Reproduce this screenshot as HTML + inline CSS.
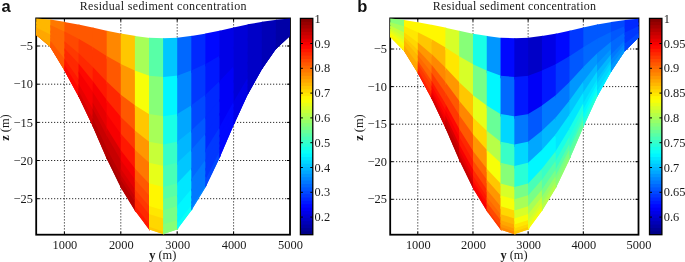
<!DOCTYPE html>
<html><head><meta charset="utf-8"><title>Residual sediment concentration</title>
<style>
html,body{margin:0;padding:0;background:#fff;}
svg{display:block;will-change:transform;}
.g{stroke:#000;stroke-width:1;stroke-dasharray:1 2;}
.t{stroke:#000;stroke-width:1;}
.s{font-family:"Liberation Serif",serif;font-size:12.4px;fill:#1a1a1a;}
.ti{font-family:"Liberation Serif",serif;font-size:12px;fill:#1a1a1a;letter-spacing:0.34px;}
.lab{font-family:"Liberation Sans",sans-serif;font-weight:bold;font-size:16.5px;fill:#111;}
</style></head><body>
<svg width="685" height="262" viewBox="0 0 685 262">
<rect width="685" height="262" fill="#fff"/>
<line x1="64.40" y1="18.40" x2="64.40" y2="234.70" class="g"/>
<line x1="120.80" y1="18.40" x2="120.80" y2="234.70" class="g"/>
<line x1="177.20" y1="18.40" x2="177.20" y2="234.70" class="g"/>
<line x1="233.60" y1="18.40" x2="233.60" y2="234.70" class="g"/>
<line x1="36.20" y1="46.00" x2="290.00" y2="46.00" class="g"/>
<line x1="36.20" y1="84.20" x2="290.00" y2="84.20" class="g"/>
<line x1="36.20" y1="122.40" x2="290.00" y2="122.40" class="g"/>
<line x1="36.20" y1="160.50" x2="290.00" y2="160.50" class="g"/>
<line x1="36.20" y1="198.70" x2="290.00" y2="198.70" class="g"/>
<rect x="36.20" y="18.40" width="253.80" height="216.30" fill="none" stroke="#000" stroke-width="1.8"/>
<line x1="64.40" y1="234.70" x2="64.40" y2="231.70" class="t"/>
<line x1="64.40" y1="18.40" x2="64.40" y2="21.40" class="t"/>
<line x1="120.80" y1="234.70" x2="120.80" y2="231.70" class="t"/>
<line x1="120.80" y1="18.40" x2="120.80" y2="21.40" class="t"/>
<line x1="177.20" y1="234.70" x2="177.20" y2="231.70" class="t"/>
<line x1="177.20" y1="18.40" x2="177.20" y2="21.40" class="t"/>
<line x1="233.60" y1="234.70" x2="233.60" y2="231.70" class="t"/>
<line x1="233.60" y1="18.40" x2="233.60" y2="21.40" class="t"/>
<line x1="36.20" y1="46.00" x2="39.20" y2="46.00" class="t"/>
<line x1="290.00" y1="46.00" x2="287.00" y2="46.00" class="t"/>
<line x1="36.20" y1="84.20" x2="39.20" y2="84.20" class="t"/>
<line x1="290.00" y1="84.20" x2="287.00" y2="84.20" class="t"/>
<line x1="36.20" y1="122.40" x2="39.20" y2="122.40" class="t"/>
<line x1="290.00" y1="122.40" x2="287.00" y2="122.40" class="t"/>
<line x1="36.20" y1="160.50" x2="39.20" y2="160.50" class="t"/>
<line x1="290.00" y1="160.50" x2="287.00" y2="160.50" class="t"/>
<line x1="36.20" y1="198.70" x2="39.20" y2="198.70" class="t"/>
<line x1="290.00" y1="198.70" x2="287.00" y2="198.70" class="t"/>
<polygon points="36.20,18.43 51.30,19.71 51.30,27.78 36.20,24.21" fill="#ffb700"/>
<polygon points="36.20,21.71 51.30,25.28 51.30,33.40 36.20,27.52" fill="#ffb700"/>
<polygon points="36.20,25.02 51.30,30.90 51.30,37.45 36.20,29.91" fill="#ffb700"/>
<polygon points="36.20,27.41 51.30,34.95 51.30,40.54 36.20,31.72" fill="#ffa700"/>
<polygon points="36.20,29.22 51.30,38.04 51.30,43.57 36.20,33.51" fill="#ffa700"/>
<polygon points="36.20,31.01 51.30,41.07 51.30,45.33 36.20,34.54" fill="#ffa700"/>
<polygon points="36.20,32.04 51.30,42.83 51.30,46.92 36.20,35.00" fill="#ffa700"/>
<polygon points="36.20,32.98 51.30,44.42 51.30,47.85 36.20,35.00" fill="#ffa700"/>
<polygon points="36.20,33.66 51.30,45.58 51.30,47.85 36.20,35.00" fill="#ffa700"/>
<polygon points="36.20,34.18 51.30,46.46 51.30,47.85 36.20,35.00" fill="#ff9700"/>
<polygon points="36.20,34.52 51.30,47.03 51.30,47.85 36.20,35.00" fill="#ff9700"/>
<polygon points="36.20,34.77 51.30,47.46 51.30,47.85 36.20,35.00" fill="#ff9700"/>
<polygon points="50.30,19.62 65.40,22.12 65.40,34.50 50.30,27.54" fill="#ff7800"/>
<polygon points="50.30,25.04 65.40,32.00 65.40,44.48 50.30,33.01" fill="#ff6800"/>
<polygon points="50.30,30.51 65.40,41.98 65.40,51.67 50.30,36.95" fill="#ff6800"/>
<polygon points="50.30,34.45 65.40,49.17 65.40,57.15 50.30,39.96" fill="#ff6800"/>
<polygon points="50.30,37.46 65.40,54.65 65.40,62.53 50.30,42.91" fill="#ff6800"/>
<polygon points="50.30,40.41 65.40,60.03 65.40,65.64 50.30,44.61" fill="#ff5800"/>
<polygon points="50.30,42.11 65.40,63.14 65.40,68.47 50.30,46.16" fill="#ff5800"/>
<polygon points="50.30,43.66 65.40,65.97 65.40,70.53 50.30,47.00" fill="#ff5800"/>
<polygon points="50.30,44.79 65.40,68.03 65.40,72.06 50.30,47.00" fill="#ff5800"/>
<polygon points="50.30,45.64 65.40,69.59 65.40,72.06 50.30,47.00" fill="#ff5800"/>
<polygon points="50.30,46.20 65.40,70.61 65.40,72.06 50.30,47.00" fill="#ff5800"/>
<polygon points="50.30,46.62 65.40,71.37 65.40,72.06 50.30,47.00" fill="#ff5800"/>
<polygon points="64.40,21.95 79.50,24.71 79.50,41.73 64.40,34.03" fill="#ff5800"/>
<polygon points="64.40,31.53 79.50,39.23 79.50,56.42 64.40,43.72" fill="#ff4800"/>
<polygon points="64.40,41.22 79.50,53.92 79.50,66.99 64.40,50.70" fill="#ff3800"/>
<polygon points="64.40,48.20 79.50,64.49 79.50,75.04 64.40,56.01" fill="#ff2800"/>
<polygon points="64.40,53.51 79.50,72.54 79.50,82.95 64.40,61.23" fill="#ff2800"/>
<polygon points="64.40,58.73 79.50,80.45 79.50,87.53 64.40,64.25" fill="#ff1800"/>
<polygon points="64.40,61.75 79.50,85.03 79.50,91.68 64.40,66.99" fill="#ff1800"/>
<polygon points="64.40,64.49 79.50,89.18 79.50,94.72 64.40,68.99" fill="#ff0800"/>
<polygon points="64.40,66.49 79.50,92.22 79.50,97.00 64.40,70.40" fill="#ff0800"/>
<polygon points="64.40,68.00 79.50,94.50 79.50,98.14 64.40,70.40" fill="#ff0800"/>
<polygon points="64.40,68.99 79.50,96.00 79.50,98.14 64.40,70.40" fill="#ff0800"/>
<polygon points="64.40,69.73 79.50,97.13 79.50,98.14 64.40,70.40" fill="#ff0800"/>
<polygon points="78.50,24.53 93.60,27.69 93.60,50.05 78.50,41.22" fill="#ff5800"/>
<polygon points="78.50,38.72 93.60,47.55 93.60,70.14 78.50,55.58" fill="#ff3800"/>
<polygon points="78.50,53.08 93.60,67.64 93.60,84.59 78.50,65.91" fill="#ff2800"/>
<polygon points="78.50,63.41 93.60,82.09 93.60,95.60 78.50,73.78" fill="#ff0800"/>
<polygon points="78.50,71.28 93.60,93.10 93.60,106.42 78.50,81.51" fill="#f70000"/>
<polygon points="78.50,79.01 93.60,103.92 93.60,112.68 78.50,85.98" fill="#f70000"/>
<polygon points="78.50,83.48 93.60,110.18 93.60,118.36 78.50,90.05" fill="#e70000"/>
<polygon points="78.50,87.55 93.60,115.86 93.60,122.51 78.50,93.01" fill="#e70000"/>
<polygon points="78.50,90.51 93.60,120.01 93.60,125.63 78.50,95.25" fill="#d70000"/>
<polygon points="78.50,92.75 93.60,123.13 93.60,127.68 78.50,96.30" fill="#d70000"/>
<polygon points="78.50,94.21 93.60,125.18 93.60,128.11 78.50,96.30" fill="#d70000"/>
<polygon points="78.50,95.31 93.60,126.72 93.60,128.11 78.50,96.30" fill="#d70000"/>
<polygon points="92.60,27.49 107.70,30.96 107.70,59.16 92.60,49.47" fill="#ff5800"/>
<polygon points="92.60,46.97 107.70,56.66 107.70,85.15 92.60,69.17" fill="#ff3800"/>
<polygon points="92.60,66.67 107.70,82.65 107.70,103.85 92.60,83.35" fill="#ff1800"/>
<polygon points="92.60,80.85 107.70,101.35 107.70,118.11 92.60,94.16" fill="#f70000"/>
<polygon points="92.60,91.66 107.70,115.61 107.70,132.11 92.60,104.77" fill="#e70000"/>
<polygon points="92.60,102.27 107.70,129.61 107.70,140.21 92.60,110.91" fill="#d70000"/>
<polygon points="92.60,108.41 107.70,137.71 107.70,147.57 92.60,116.49" fill="#c70000"/>
<polygon points="92.60,113.99 107.70,145.07 107.70,152.94 92.60,120.56" fill="#c70000"/>
<polygon points="92.60,118.06 107.70,150.44 107.70,156.98 92.60,123.62" fill="#b70000"/>
<polygon points="92.60,121.12 107.70,154.48 107.70,159.63 92.60,125.63" fill="#b70000"/>
<polygon points="92.60,123.13 107.70,157.13 107.70,160.91 92.60,126.00" fill="#b70000"/>
<polygon points="92.60,124.64 107.70,159.12 107.70,160.91 92.60,126.00" fill="#b70000"/>
<polygon points="106.70,30.73 121.80,33.80 121.80,67.08 106.70,58.52" fill="#ff8700"/>
<polygon points="106.70,56.02 121.80,64.58 121.80,98.21 106.70,84.09" fill="#ff5800"/>
<polygon points="106.70,81.59 121.80,95.71 121.80,120.61 106.70,102.50" fill="#ff2800"/>
<polygon points="106.70,100.00 121.80,118.11 121.80,137.69 106.70,116.53" fill="#ff0800"/>
<polygon points="106.70,114.03 121.80,135.19 121.80,154.45 106.70,130.30" fill="#f70000"/>
<polygon points="106.70,127.80 121.80,151.95 121.80,164.15 106.70,138.27" fill="#d70000"/>
<polygon points="106.70,135.77 121.80,161.65 121.80,172.96 106.70,145.51" fill="#c70000"/>
<polygon points="106.70,143.01 121.80,170.46 121.80,179.39 106.70,150.79" fill="#c70000"/>
<polygon points="106.70,148.29 121.80,176.89 121.80,184.23 106.70,154.77" fill="#b70000"/>
<polygon points="106.70,152.27 121.80,181.73 121.80,187.41 106.70,157.38" fill="#b70000"/>
<polygon points="106.70,154.88 121.80,184.91 121.80,189.44 106.70,158.60" fill="#a70000"/>
<polygon points="106.70,156.84 121.80,187.30 121.80,189.44 106.70,158.60" fill="#a70000"/>
<polygon points="120.80,33.59 135.90,36.06 135.90,73.38 120.80,66.51" fill="#ffc700"/>
<polygon points="120.80,64.01 135.90,70.88 135.90,108.60 120.80,97.28" fill="#ff9700"/>
<polygon points="120.80,94.78 135.90,106.10 135.90,133.94 120.80,119.41" fill="#ff5800"/>
<polygon points="120.80,116.91 135.90,131.44 135.90,153.26 120.80,136.29" fill="#ff3800"/>
<polygon points="120.80,133.79 135.90,150.76 135.90,172.23 120.80,152.85" fill="#ff1800"/>
<polygon points="120.80,150.35 135.90,169.73 135.90,183.20 120.80,162.44" fill="#f70000"/>
<polygon points="120.80,159.94 135.90,180.70 135.90,193.17 120.80,171.15" fill="#e70000"/>
<polygon points="120.80,168.65 135.90,190.67 135.90,200.44 120.80,177.50" fill="#d70000"/>
<polygon points="120.80,175.00 135.90,197.94 135.90,205.92 120.80,182.28" fill="#c70000"/>
<polygon points="120.80,179.78 135.90,203.42 135.90,209.52 120.80,185.43" fill="#b70000"/>
<polygon points="120.80,182.93 135.90,207.02 135.90,212.14 120.80,187.40" fill="#b70000"/>
<polygon points="120.80,185.28 135.90,209.71 135.90,212.14 120.80,187.40" fill="#b70000"/>
<polygon points="134.90,35.89 150.00,37.92 150.00,78.58 134.90,72.93" fill="#a7ff58"/>
<polygon points="134.90,70.43 150.00,76.08 150.00,117.16 134.90,107.85" fill="#f7ff08"/>
<polygon points="134.90,105.35 150.00,114.66 150.00,144.93 134.90,132.98" fill="#ffc700"/>
<polygon points="134.90,130.48 150.00,142.43 150.00,166.10 134.90,152.13" fill="#ff9700"/>
<polygon points="134.90,149.63 150.00,163.60 150.00,186.88 134.90,170.94" fill="#ff7800"/>
<polygon points="134.90,168.44 150.00,184.38 150.00,198.90 134.90,181.82" fill="#ff5800"/>
<polygon points="134.90,179.32 150.00,196.40 150.00,209.82 134.90,191.71" fill="#ff4800"/>
<polygon points="134.90,189.21 150.00,207.32 150.00,217.79 134.90,198.92" fill="#ff3800"/>
<polygon points="134.90,196.42 150.00,215.29 150.00,223.79 134.90,204.35" fill="#ff2800"/>
<polygon points="134.90,201.85 150.00,221.29 150.00,227.73 134.90,207.92" fill="#ff2800"/>
<polygon points="134.90,205.42 150.00,225.23 150.00,230.69 134.90,210.50" fill="#ff1800"/>
<polygon points="134.90,208.10 150.00,228.19 150.00,230.85 134.90,210.50" fill="#ff1800"/>
<polygon points="149.00,37.78 164.10,38.28 164.10,79.60 149.00,78.20" fill="#58ffa7"/>
<polygon points="149.00,75.70 164.10,77.10 164.10,118.85 149.00,116.54" fill="#87ff78"/>
<polygon points="149.00,114.04 164.10,116.35 164.10,147.09 149.00,144.14" fill="#a7ff58"/>
<polygon points="149.00,141.64 164.10,144.59 164.10,168.62 149.00,165.17" fill="#c7ff38"/>
<polygon points="149.00,162.67 164.10,166.12 164.10,189.76 149.00,185.82" fill="#e7ff18"/>
<polygon points="149.00,183.32 164.10,187.26 164.10,201.99 149.00,197.77" fill="#fff700"/>
<polygon points="149.00,195.27 164.10,199.49 164.10,213.10 149.00,208.62" fill="#fff700"/>
<polygon points="149.00,206.12 164.10,210.60 164.10,221.21 149.00,216.54" fill="#ffe700"/>
<polygon points="149.00,214.04 164.10,218.71 164.10,227.31 149.00,222.50" fill="#ffd700"/>
<polygon points="149.00,220.00 164.10,224.81 164.10,231.32 149.00,226.42" fill="#ffd700"/>
<polygon points="149.00,223.92 164.10,228.82 164.10,234.33 149.00,229.36" fill="#ffd700"/>
<polygon points="149.00,226.86 164.10,231.83 164.10,234.53 149.00,229.50" fill="#ffc700"/>
<polygon points="163.10,38.25 178.20,37.75 178.20,78.11 163.10,79.51" fill="#00c7ff"/>
<polygon points="163.10,77.01 178.20,75.61 178.20,116.39 163.10,118.70" fill="#00f7ff"/>
<polygon points="163.10,116.20 178.20,113.89 178.20,143.94 163.10,146.90" fill="#18ffe7"/>
<polygon points="163.10,144.40 178.20,141.44 178.20,164.94 163.10,168.40" fill="#38ffc7"/>
<polygon points="163.10,165.90 178.20,162.44 178.20,185.56 163.10,189.50" fill="#48ffb7"/>
<polygon points="163.10,187.00 178.20,183.06 178.20,197.49 163.10,201.71" fill="#58ffa7"/>
<polygon points="163.10,199.21 178.20,194.99 178.20,208.33 163.10,212.81" fill="#68ff97"/>
<polygon points="163.10,210.31 178.20,205.83 178.20,216.23 163.10,220.90" fill="#78ff87"/>
<polygon points="163.10,218.40 178.20,213.73 178.20,222.19 163.10,227.00" fill="#78ff87"/>
<polygon points="163.10,224.50 178.20,219.69 178.20,226.10 163.10,231.00" fill="#87ff78"/>
<polygon points="163.10,228.50 178.20,223.60 178.20,229.03 163.10,234.00" fill="#87ff78"/>
<polygon points="163.10,231.50 178.20,226.53 178.20,229.17 163.10,234.20" fill="#87ff78"/>
<polygon points="177.20,37.78 192.30,35.76 192.30,72.55 177.20,78.20" fill="#0068ff"/>
<polygon points="177.20,75.70 192.30,70.05 192.30,107.23 177.20,116.54" fill="#0087ff"/>
<polygon points="177.20,114.04 192.30,104.73 192.30,132.19 177.20,144.14" fill="#00a7ff"/>
<polygon points="177.20,141.64 192.30,129.69 192.30,151.21 177.20,165.17" fill="#00b7ff"/>
<polygon points="177.20,162.67 192.30,148.71 192.30,169.89 177.20,185.82" fill="#00c7ff"/>
<polygon points="177.20,183.32 192.30,167.39 192.30,180.69 177.20,197.77" fill="#00e7ff"/>
<polygon points="177.20,195.27 192.30,178.19 192.30,190.51 177.20,208.62" fill="#00e7ff"/>
<polygon points="177.20,206.12 192.30,188.01 192.30,197.67 177.20,216.54" fill="#00f7ff"/>
<polygon points="177.20,214.04 192.30,195.17 192.30,203.06 177.20,222.50" fill="#00f7ff"/>
<polygon points="177.20,220.00 192.30,200.56 192.30,206.61 177.20,226.42" fill="#00f7ff"/>
<polygon points="177.20,223.92 192.30,204.11 192.30,209.15 177.20,229.36" fill="#08fff7"/>
<polygon points="177.20,226.86 192.30,206.76 192.30,209.15 177.20,229.50" fill="#08fff7"/>
<polygon points="191.30,35.89 206.40,33.43 206.40,66.06 191.30,72.93" fill="#0028ff"/>
<polygon points="191.30,70.43 206.40,63.56 206.40,96.53 191.30,107.85" fill="#0038ff"/>
<polygon points="191.30,105.35 206.40,94.03 206.40,118.45 191.30,132.98" fill="#0048ff"/>
<polygon points="191.30,130.48 206.40,115.95 206.40,135.16 191.30,152.13" fill="#0058ff"/>
<polygon points="191.30,149.63 206.40,132.66 206.40,151.57 191.30,170.94" fill="#0068ff"/>
<polygon points="191.30,168.44 206.40,149.07 206.40,161.06 191.30,181.82" fill="#0068ff"/>
<polygon points="191.30,179.32 206.40,158.56 206.40,169.69 191.30,191.71" fill="#0078ff"/>
<polygon points="191.30,189.21 206.40,167.19 206.40,175.98 191.30,198.92" fill="#0078ff"/>
<polygon points="191.30,196.42 206.40,173.48 206.40,180.72 191.30,204.35" fill="#0078ff"/>
<polygon points="191.30,201.85 206.40,178.22 206.40,183.83 191.30,207.92" fill="#0078ff"/>
<polygon points="191.30,205.42 206.40,181.33 206.40,185.76 191.30,210.50" fill="#0078ff"/>
<polygon points="191.30,208.10 206.40,183.66 206.40,185.76 191.30,210.50" fill="#0087ff"/>
<polygon points="205.40,33.59 220.50,30.46 220.50,57.77 205.40,66.51" fill="#0008ff"/>
<polygon points="205.40,64.01 220.50,55.27 220.50,82.86 205.40,97.28" fill="#0018ff"/>
<polygon points="205.40,94.78 220.50,80.36 220.50,100.92 205.40,119.41" fill="#0028ff"/>
<polygon points="205.40,116.91 220.50,98.42 220.50,114.68 205.40,136.29" fill="#0028ff"/>
<polygon points="205.40,133.79 220.50,112.18 220.50,128.20 205.40,152.85" fill="#0028ff"/>
<polygon points="205.40,150.35 220.50,125.70 220.50,136.01 205.40,162.44" fill="#0038ff"/>
<polygon points="205.40,159.94 220.50,133.51 220.50,143.12 205.40,171.15" fill="#0038ff"/>
<polygon points="205.40,168.65 220.50,140.62 220.50,148.30 205.40,177.50" fill="#0038ff"/>
<polygon points="205.40,175.00 220.50,145.80 220.50,152.20 205.40,182.28" fill="#0038ff"/>
<polygon points="205.40,179.78 220.50,149.70 220.50,154.76 205.40,185.43" fill="#0048ff"/>
<polygon points="205.40,182.93 220.50,152.26 220.50,155.91 205.40,187.40" fill="#0048ff"/>
<polygon points="205.40,185.28 220.50,154.19 220.50,155.91 205.40,187.40" fill="#0048ff"/>
<polygon points="219.50,30.67 234.60,27.17 234.60,48.60 219.50,58.35" fill="#0000e7"/>
<polygon points="219.50,55.85 234.60,46.10 234.60,67.74 219.50,83.82" fill="#0000e7"/>
<polygon points="219.50,81.32 234.60,65.24 234.60,81.51 219.50,102.14" fill="#0000f7"/>
<polygon points="219.50,99.64 234.60,79.01 234.60,92.01 219.50,116.11" fill="#0000f7"/>
<polygon points="219.50,113.61 234.60,89.51 234.60,102.32 219.50,129.83" fill="#0000f7"/>
<polygon points="219.50,127.33 234.60,99.82 234.60,108.28 219.50,137.76" fill="#0008ff"/>
<polygon points="219.50,135.26 234.60,105.78 234.60,113.70 219.50,144.97" fill="#0008ff"/>
<polygon points="219.50,142.47 234.60,111.20 234.60,117.66 219.50,150.23" fill="#0008ff"/>
<polygon points="219.50,147.73 234.60,115.16 234.60,120.63 219.50,154.19" fill="#0008ff"/>
<polygon points="219.50,151.69 234.60,118.13 234.60,122.59 219.50,156.80" fill="#0008ff"/>
<polygon points="219.50,154.30 234.60,120.09 234.60,122.87 219.50,158.00" fill="#0008ff"/>
<polygon points="219.50,156.25 234.60,121.56 234.60,122.87 219.50,158.00" fill="#0008ff"/>
<polygon points="233.60,27.41 248.70,24.13 248.70,40.12 233.60,49.25" fill="#0000d7"/>
<polygon points="233.60,46.75 248.70,37.62 248.70,53.76 233.60,68.81" fill="#0000d7"/>
<polygon points="233.60,66.31 248.70,51.26 248.70,63.57 233.60,82.88" fill="#0000d7"/>
<polygon points="233.60,80.38 248.70,61.07 248.70,71.05 233.60,93.61" fill="#0000d7"/>
<polygon points="233.60,91.11 248.70,68.55 248.70,78.40 233.60,104.14" fill="#0000d7"/>
<polygon points="233.60,101.64 248.70,75.90 248.70,82.65 233.60,110.24" fill="#0000e7"/>
<polygon points="233.60,107.74 248.70,80.15 248.70,86.51 233.60,115.78" fill="#0000e7"/>
<polygon points="233.60,113.28 248.70,84.01 248.70,89.33 233.60,119.82" fill="#0000e7"/>
<polygon points="233.60,117.32 248.70,86.83 248.70,91.45 233.60,122.86" fill="#0000e7"/>
<polygon points="233.60,120.36 248.70,88.95 248.70,92.32 233.60,124.85" fill="#0000e7"/>
<polygon points="233.60,122.35 248.70,90.34 248.70,92.32 233.60,125.20" fill="#0000e7"/>
<polygon points="233.60,123.85 248.70,91.38 248.70,92.32 233.60,125.20" fill="#0000e7"/>
<polygon points="247.70,24.35 262.80,21.67 262.80,33.23 247.70,40.73" fill="#0000c7"/>
<polygon points="247.70,38.23 262.80,30.73 262.80,42.40 247.70,54.75" fill="#0000c7"/>
<polygon points="247.70,52.25 262.80,39.90 262.80,49.00 247.70,64.85" fill="#0000c7"/>
<polygon points="247.70,62.35 262.80,46.50 262.80,54.03 247.70,72.55" fill="#0000c7"/>
<polygon points="247.70,70.05 262.80,51.53 262.80,58.97 247.70,80.10" fill="#0000c7"/>
<polygon points="247.70,77.60 262.80,56.47 262.80,61.83 247.70,84.47" fill="#0000c7"/>
<polygon points="247.70,81.97 262.80,59.33 262.80,64.42 247.70,88.45" fill="#0000c7"/>
<polygon points="247.70,85.95 262.80,61.92 262.80,66.32 247.70,91.34" fill="#0000c7"/>
<polygon points="247.70,88.84 262.80,63.82 262.80,67.51 247.70,93.53" fill="#0000c7"/>
<polygon points="247.70,91.03 262.80,65.24 262.80,67.51 247.70,94.50" fill="#0000c7"/>
<polygon points="247.70,92.46 262.80,66.18 262.80,67.51 247.70,94.50" fill="#0000c7"/>
<polygon points="247.70,93.53 262.80,66.88 262.80,67.51 247.70,94.50" fill="#0000c7"/>
<polygon points="261.80,21.84 276.90,19.68 276.90,27.69 261.80,33.73" fill="#0000b7"/>
<polygon points="261.80,31.23 276.90,25.19 276.90,33.27 261.80,43.22" fill="#0000b7"/>
<polygon points="261.80,40.72 276.90,30.77 276.90,37.28 261.80,50.05" fill="#0000b7"/>
<polygon points="261.80,47.55 276.90,34.78 276.90,40.34 261.80,55.26" fill="#0000b7"/>
<polygon points="261.80,52.76 276.90,37.84 276.90,43.34 261.80,60.37" fill="#0000b7"/>
<polygon points="261.80,57.87 276.90,40.84 276.90,45.08 261.80,63.33" fill="#0000b7"/>
<polygon points="261.80,60.83 276.90,42.58 276.90,46.66 261.80,66.01" fill="#0000b7"/>
<polygon points="261.80,63.51 276.90,44.16 276.90,47.56 261.80,67.97" fill="#0000b7"/>
<polygon points="261.80,65.47 276.90,45.31 276.90,47.56 261.80,69.30" fill="#0000b7"/>
<polygon points="261.80,66.95 276.90,46.18 276.90,47.56 261.80,69.30" fill="#0000b7"/>
<polygon points="261.80,67.92 276.90,46.75 276.90,47.56 261.80,69.30" fill="#0000b7"/>
<polygon points="261.80,68.65 276.90,47.18 276.90,47.56 261.80,69.30" fill="#0000b7"/>
<polygon points="275.90,19.82 290.00,18.50 290.00,24.40 275.90,28.09" fill="#0000a7"/>
<polygon points="275.90,25.59 290.00,21.90 290.00,27.84 275.90,33.93" fill="#0000a7"/>
<polygon points="275.90,31.43 290.00,25.34 290.00,30.32 275.90,38.13" fill="#0000a7"/>
<polygon points="275.90,35.63 290.00,27.82 290.00,32.20 275.90,41.33" fill="#0000a7"/>
<polygon points="275.90,38.83 290.00,29.70 290.00,34.06 275.90,44.47" fill="#0000a7"/>
<polygon points="275.90,41.97 290.00,31.56 290.00,35.13 275.90,46.29" fill="#0000a7"/>
<polygon points="275.90,43.79 290.00,32.63 290.00,35.70 275.90,47.94" fill="#0000a7"/>
<polygon points="275.90,45.44 290.00,33.60 290.00,35.70 275.90,49.00" fill="#0000a7"/>
<polygon points="275.90,46.65 290.00,34.31 290.00,35.70 275.90,49.00" fill="#0000a7"/>
<polygon points="275.90,47.55 290.00,34.85 290.00,35.70 275.90,49.00" fill="#0000a7"/>
<polygon points="275.90,48.15 290.00,35.20 290.00,35.70 275.90,49.00" fill="#0000a7"/>
<polygon points="275.90,48.60 290.00,35.46 290.00,35.70 275.90,49.00" fill="#0000a7"/>
<text x="64.90" y="248.7" class="s" text-anchor="middle">1000</text>
<text x="121.30" y="248.7" class="s" text-anchor="middle">2000</text>
<text x="177.70" y="248.7" class="s" text-anchor="middle">3000</text>
<text x="234.10" y="248.7" class="s" text-anchor="middle">4000</text>
<text x="290.50" y="248.7" class="s" text-anchor="middle">5000</text>
<text x="33.00" y="50.10" class="s" text-anchor="end">−5</text>
<text x="33.00" y="88.30" class="s" text-anchor="end">−10</text>
<text x="33.00" y="126.50" class="s" text-anchor="end">−15</text>
<text x="33.00" y="164.60" class="s" text-anchor="end">−20</text>
<text x="33.00" y="202.80" class="s" text-anchor="end">−25</text>
<text x="162.80" y="259" class="s" text-anchor="middle"><tspan font-weight="bold">y</tspan> (m)</text>
<text transform="translate(8.60,127.55) rotate(-90)" class="s" text-anchor="middle"><tspan font-weight="bold">z</tspan> (m)</text>
<text x="163.27" y="9.8" class="ti" style="letter-spacing:0.34px" text-anchor="middle">Residual sediment concentration</text>
<text x="1.60" y="11.9" class="lab">a</text>
<rect x="300.40" y="18.40" width="12.40" height="216.30" fill="#870000"/>
<rect x="300.40" y="21.78" width="12.40" height="212.92" fill="#970000"/>
<rect x="300.40" y="25.16" width="12.40" height="209.54" fill="#a70000"/>
<rect x="300.40" y="28.54" width="12.40" height="206.16" fill="#b70000"/>
<rect x="300.40" y="31.92" width="12.40" height="202.78" fill="#c70000"/>
<rect x="300.40" y="35.30" width="12.40" height="199.40" fill="#d70000"/>
<rect x="300.40" y="38.68" width="12.40" height="196.02" fill="#e70000"/>
<rect x="300.40" y="42.06" width="12.40" height="192.64" fill="#f70000"/>
<rect x="300.40" y="45.44" width="12.40" height="189.26" fill="#ff0800"/>
<rect x="300.40" y="48.82" width="12.40" height="185.88" fill="#ff1800"/>
<rect x="300.40" y="52.20" width="12.40" height="182.50" fill="#ff2800"/>
<rect x="300.40" y="55.58" width="12.40" height="179.12" fill="#ff3800"/>
<rect x="300.40" y="58.96" width="12.40" height="175.74" fill="#ff4800"/>
<rect x="300.40" y="62.34" width="12.40" height="172.36" fill="#ff5800"/>
<rect x="300.40" y="65.72" width="12.40" height="168.98" fill="#ff6800"/>
<rect x="300.40" y="69.10" width="12.40" height="165.60" fill="#ff7800"/>
<rect x="300.40" y="72.47" width="12.40" height="162.22" fill="#ff8700"/>
<rect x="300.40" y="75.85" width="12.40" height="158.85" fill="#ff9700"/>
<rect x="300.40" y="79.23" width="12.40" height="155.47" fill="#ffa700"/>
<rect x="300.40" y="82.61" width="12.40" height="152.09" fill="#ffb700"/>
<rect x="300.40" y="85.99" width="12.40" height="148.71" fill="#ffc700"/>
<rect x="300.40" y="89.37" width="12.40" height="145.33" fill="#ffd700"/>
<rect x="300.40" y="92.75" width="12.40" height="141.95" fill="#ffe700"/>
<rect x="300.40" y="96.13" width="12.40" height="138.57" fill="#fff700"/>
<rect x="300.40" y="99.51" width="12.40" height="135.19" fill="#f7ff08"/>
<rect x="300.40" y="102.89" width="12.40" height="131.81" fill="#e7ff18"/>
<rect x="300.40" y="106.27" width="12.40" height="128.43" fill="#d7ff28"/>
<rect x="300.40" y="109.65" width="12.40" height="125.05" fill="#c7ff38"/>
<rect x="300.40" y="113.03" width="12.40" height="121.67" fill="#b7ff48"/>
<rect x="300.40" y="116.41" width="12.40" height="118.29" fill="#a7ff58"/>
<rect x="300.40" y="119.79" width="12.40" height="114.91" fill="#97ff68"/>
<rect x="300.40" y="123.17" width="12.40" height="111.53" fill="#87ff78"/>
<rect x="300.40" y="126.55" width="12.40" height="108.15" fill="#78ff87"/>
<rect x="300.40" y="129.93" width="12.40" height="104.77" fill="#68ff97"/>
<rect x="300.40" y="133.31" width="12.40" height="101.39" fill="#58ffa7"/>
<rect x="300.40" y="136.69" width="12.40" height="98.01" fill="#48ffb7"/>
<rect x="300.40" y="140.07" width="12.40" height="94.63" fill="#38ffc7"/>
<rect x="300.40" y="143.45" width="12.40" height="91.25" fill="#28ffd7"/>
<rect x="300.40" y="146.83" width="12.40" height="87.87" fill="#18ffe7"/>
<rect x="300.40" y="150.21" width="12.40" height="84.49" fill="#08fff7"/>
<rect x="300.40" y="153.59" width="12.40" height="81.11" fill="#00f7ff"/>
<rect x="300.40" y="156.97" width="12.40" height="77.73" fill="#00e7ff"/>
<rect x="300.40" y="160.35" width="12.40" height="74.35" fill="#00d7ff"/>
<rect x="300.40" y="163.73" width="12.40" height="70.97" fill="#00c7ff"/>
<rect x="300.40" y="167.11" width="12.40" height="67.59" fill="#00b7ff"/>
<rect x="300.40" y="170.49" width="12.40" height="64.21" fill="#00a7ff"/>
<rect x="300.40" y="173.87" width="12.40" height="60.83" fill="#0097ff"/>
<rect x="300.40" y="177.25" width="12.40" height="57.45" fill="#0087ff"/>
<rect x="300.40" y="180.62" width="12.40" height="54.07" fill="#0078ff"/>
<rect x="300.40" y="184.00" width="12.40" height="50.70" fill="#0068ff"/>
<rect x="300.40" y="187.38" width="12.40" height="47.32" fill="#0058ff"/>
<rect x="300.40" y="190.76" width="12.40" height="43.94" fill="#0048ff"/>
<rect x="300.40" y="194.14" width="12.40" height="40.56" fill="#0038ff"/>
<rect x="300.40" y="197.52" width="12.40" height="37.18" fill="#0028ff"/>
<rect x="300.40" y="200.90" width="12.40" height="33.80" fill="#0018ff"/>
<rect x="300.40" y="204.28" width="12.40" height="30.42" fill="#0008ff"/>
<rect x="300.40" y="207.66" width="12.40" height="27.04" fill="#0000f7"/>
<rect x="300.40" y="211.04" width="12.40" height="23.66" fill="#0000e7"/>
<rect x="300.40" y="214.42" width="12.40" height="20.28" fill="#0000d7"/>
<rect x="300.40" y="217.80" width="12.40" height="16.90" fill="#0000c7"/>
<rect x="300.40" y="221.18" width="12.40" height="13.52" fill="#0000b7"/>
<rect x="300.40" y="224.56" width="12.40" height="10.14" fill="#0000a7"/>
<rect x="300.40" y="227.94" width="12.40" height="6.76" fill="#000097"/>
<rect x="300.40" y="231.32" width="12.40" height="3.38" fill="#000087"/>
<rect x="300.40" y="18.40" width="12.40" height="216.30" fill="none" stroke="#000" stroke-width="1.3"/>
<text x="314.60" y="23.30" class="s">1</text>
<line x1="300.40" y1="43.50" x2="302.90" y2="43.50" class="t"/>
<line x1="312.80" y1="43.50" x2="310.30" y2="43.50" class="t"/>
<text x="314.60" y="47.60" class="s">0.9</text>
<line x1="300.40" y1="68.30" x2="302.90" y2="68.30" class="t"/>
<line x1="312.80" y1="68.30" x2="310.30" y2="68.30" class="t"/>
<text x="314.60" y="72.40" class="s">0.8</text>
<line x1="300.40" y1="93.10" x2="302.90" y2="93.10" class="t"/>
<line x1="312.80" y1="93.10" x2="310.30" y2="93.10" class="t"/>
<text x="314.60" y="97.20" class="s">0.7</text>
<line x1="300.40" y1="117.90" x2="302.90" y2="117.90" class="t"/>
<line x1="312.80" y1="117.90" x2="310.30" y2="117.90" class="t"/>
<text x="314.60" y="122.00" class="s">0.6</text>
<line x1="300.40" y1="142.70" x2="302.90" y2="142.70" class="t"/>
<line x1="312.80" y1="142.70" x2="310.30" y2="142.70" class="t"/>
<text x="314.60" y="146.80" class="s">0.5</text>
<line x1="300.40" y1="167.50" x2="302.90" y2="167.50" class="t"/>
<line x1="312.80" y1="167.50" x2="310.30" y2="167.50" class="t"/>
<text x="314.60" y="171.60" class="s">0.4</text>
<line x1="300.40" y1="192.30" x2="302.90" y2="192.30" class="t"/>
<line x1="312.80" y1="192.30" x2="310.30" y2="192.30" class="t"/>
<text x="314.60" y="196.40" class="s">0.3</text>
<line x1="300.40" y1="217.10" x2="302.90" y2="217.10" class="t"/>
<line x1="312.80" y1="217.10" x2="310.30" y2="217.10" class="t"/>
<text x="314.60" y="221.20" class="s">0.2</text>
<line x1="417.79" y1="18.40" x2="417.79" y2="234.70" class="g"/>
<line x1="472.97" y1="18.40" x2="472.97" y2="234.70" class="g"/>
<line x1="528.14" y1="18.40" x2="528.14" y2="234.70" class="g"/>
<line x1="583.32" y1="18.40" x2="583.32" y2="234.70" class="g"/>
<line x1="390.20" y1="49.00" x2="638.50" y2="49.00" class="g"/>
<line x1="390.20" y1="86.60" x2="638.50" y2="86.60" class="g"/>
<line x1="390.20" y1="124.20" x2="638.50" y2="124.20" class="g"/>
<line x1="390.20" y1="161.70" x2="638.50" y2="161.70" class="g"/>
<line x1="390.20" y1="199.30" x2="638.50" y2="199.30" class="g"/>
<rect x="390.20" y="18.40" width="248.30" height="216.30" fill="none" stroke="#000" stroke-width="1.8"/>
<line x1="417.79" y1="234.70" x2="417.79" y2="231.70" class="t"/>
<line x1="417.79" y1="18.40" x2="417.79" y2="21.40" class="t"/>
<line x1="472.97" y1="234.70" x2="472.97" y2="231.70" class="t"/>
<line x1="472.97" y1="18.40" x2="472.97" y2="21.40" class="t"/>
<line x1="528.14" y1="234.70" x2="528.14" y2="231.70" class="t"/>
<line x1="528.14" y1="18.40" x2="528.14" y2="21.40" class="t"/>
<line x1="583.32" y1="234.70" x2="583.32" y2="231.70" class="t"/>
<line x1="583.32" y1="18.40" x2="583.32" y2="21.40" class="t"/>
<line x1="390.20" y1="49.00" x2="393.20" y2="49.00" class="t"/>
<line x1="638.50" y1="49.00" x2="635.50" y2="49.00" class="t"/>
<line x1="390.20" y1="86.60" x2="393.20" y2="86.60" class="t"/>
<line x1="638.50" y1="86.60" x2="635.50" y2="86.60" class="t"/>
<line x1="390.20" y1="124.20" x2="393.20" y2="124.20" class="t"/>
<line x1="638.50" y1="124.20" x2="635.50" y2="124.20" class="t"/>
<line x1="390.20" y1="161.70" x2="393.20" y2="161.70" class="t"/>
<line x1="638.50" y1="161.70" x2="635.50" y2="161.70" class="t"/>
<line x1="390.20" y1="199.30" x2="393.20" y2="199.30" class="t"/>
<line x1="638.50" y1="199.30" x2="635.50" y2="199.30" class="t"/>
<polygon points="390.20,18.61 404.99,20.10 404.99,28.88 390.20,24.71" fill="#87ff78"/>
<polygon points="390.20,22.21 404.99,26.38 404.99,35.22 390.20,28.35" fill="#a7ff58"/>
<polygon points="390.20,25.85 404.99,32.72 404.99,39.78 390.20,30.96" fill="#c7ff38"/>
<polygon points="390.20,28.46 404.99,37.28 404.99,43.26 390.20,32.96" fill="#d7ff28"/>
<polygon points="390.20,30.46 404.99,40.76 404.99,46.68 390.20,34.92" fill="#e7ff18"/>
<polygon points="390.20,32.42 404.99,44.18 404.99,48.65 390.20,36.05" fill="#f7ff08"/>
<polygon points="390.20,33.55 404.99,46.15 404.99,50.45 390.20,36.80" fill="#f7ff08"/>
<polygon points="390.20,34.58 404.99,47.95 404.99,51.76 390.20,36.80" fill="#fff700"/>
<polygon points="390.20,35.33 404.99,49.26 404.99,51.81 390.20,36.80" fill="#fff700"/>
<polygon points="390.20,35.90 404.99,50.24 404.99,51.81 390.20,36.80" fill="#fff700"/>
<polygon points="390.20,36.27 404.99,50.89 404.99,51.81 390.20,36.80" fill="#fff700"/>
<polygon points="390.20,36.55 404.99,51.38 404.99,51.81 390.20,36.80" fill="#fff700"/>
<polygon points="403.99,20.00 418.79,22.38 418.79,35.21 403.99,28.59" fill="#fff700"/>
<polygon points="403.99,26.09 418.79,32.71 418.79,45.67 403.99,34.75" fill="#ffe700"/>
<polygon points="403.99,32.25 418.79,43.17 418.79,53.19 403.99,39.19" fill="#ffd700"/>
<polygon points="403.99,36.69 418.79,50.69 418.79,58.92 403.99,42.56" fill="#ffc700"/>
<polygon points="403.99,40.06 418.79,56.42 418.79,64.55 403.99,45.88" fill="#ffb700"/>
<polygon points="403.99,43.38 418.79,62.05 418.79,67.81 403.99,47.80" fill="#ffb700"/>
<polygon points="403.99,45.30 418.79,65.31 418.79,70.77 403.99,49.54" fill="#ffa700"/>
<polygon points="403.99,47.04 418.79,68.27 418.79,72.93 403.99,50.80" fill="#ffa700"/>
<polygon points="403.99,48.32 418.79,70.43 418.79,74.55 403.99,50.80" fill="#ffa700"/>
<polygon points="403.99,49.27 418.79,72.05 418.79,74.64 403.99,50.80" fill="#ffa700"/>
<polygon points="403.99,49.90 418.79,73.12 418.79,74.64 403.99,50.80" fill="#ffa700"/>
<polygon points="403.99,50.38 418.79,73.92 418.79,74.64 403.99,50.80" fill="#ff9700"/>
<polygon points="417.79,22.21 432.58,24.94 432.58,42.36 417.79,34.77" fill="#fff700"/>
<polygon points="417.79,32.27 432.58,39.86 432.58,57.44 417.79,44.93" fill="#ffc700"/>
<polygon points="417.79,42.43 432.58,54.94 432.58,68.30 417.79,52.24" fill="#ff9700"/>
<polygon points="417.79,49.74 432.58,65.80 432.58,76.58 417.79,57.82" fill="#ff7800"/>
<polygon points="417.79,55.32 432.58,74.08 432.58,84.70 417.79,63.29" fill="#ff6800"/>
<polygon points="417.79,60.79 432.58,82.20 432.58,89.40 417.79,66.46" fill="#ff4800"/>
<polygon points="417.79,63.96 432.58,86.90 432.58,93.68 417.79,69.34" fill="#ff3800"/>
<polygon points="417.79,66.84 432.58,91.18 432.58,96.79 417.79,71.43" fill="#ff3800"/>
<polygon points="417.79,68.93 432.58,94.29 432.58,99.14 417.79,73.01" fill="#ff2800"/>
<polygon points="417.79,70.51 432.58,96.64 432.58,100.38 417.79,73.03" fill="#ff2800"/>
<polygon points="417.79,71.55 432.58,98.18 432.58,100.38 417.79,73.03" fill="#ff1800"/>
<polygon points="417.79,72.33 432.58,99.34 432.58,100.38 417.79,73.03" fill="#ff1800"/>
<polygon points="431.58,24.75 446.38,27.87 446.38,50.55 431.58,41.84" fill="#fff700"/>
<polygon points="431.58,39.34 446.38,48.05 446.38,70.95 431.58,56.60" fill="#ffb700"/>
<polygon points="431.58,54.10 446.38,68.45 446.38,85.63 431.58,67.22" fill="#ff8700"/>
<polygon points="431.58,64.72 446.38,83.13 446.38,96.82 431.58,75.31" fill="#ff5800"/>
<polygon points="431.58,72.81 446.38,94.32 446.38,107.81 431.58,83.26" fill="#ff3800"/>
<polygon points="431.58,80.76 446.38,105.31 446.38,114.17 431.58,87.85" fill="#ff1800"/>
<polygon points="431.58,85.35 446.38,111.67 446.38,119.95 431.58,92.03" fill="#ff0800"/>
<polygon points="431.58,89.53 446.38,117.45 446.38,124.16 431.58,95.08" fill="#f70000"/>
<polygon points="431.58,92.58 446.38,121.66 446.38,127.33 431.58,97.37" fill="#e70000"/>
<polygon points="431.58,94.87 446.38,124.83 446.38,129.42 431.58,98.53" fill="#d70000"/>
<polygon points="431.58,96.38 446.38,126.92 446.38,129.88 431.58,98.53" fill="#d70000"/>
<polygon points="431.58,97.51 446.38,128.48 446.38,129.88 431.58,98.53" fill="#d70000"/>
<polygon points="445.38,27.66 460.17,31.09 460.17,59.51 445.38,49.96" fill="#d7ff28"/>
<polygon points="445.38,47.46 460.17,57.01 460.17,85.73 445.38,69.98" fill="#ffe700"/>
<polygon points="445.38,67.48 460.17,83.23 460.17,104.60 445.38,84.39" fill="#ff9700"/>
<polygon points="445.38,81.89 460.17,102.10 460.17,118.98 445.38,95.37" fill="#ff5800"/>
<polygon points="445.38,92.87 460.17,116.48 460.17,133.11 445.38,106.15" fill="#ff3800"/>
<polygon points="445.38,103.65 460.17,130.61 460.17,141.27 445.38,112.39" fill="#ff0800"/>
<polygon points="445.38,109.89 460.17,138.77 460.17,148.70 445.38,118.06" fill="#f70000"/>
<polygon points="445.38,115.56 460.17,146.20 460.17,154.11 445.38,122.19" fill="#d70000"/>
<polygon points="445.38,119.69 460.17,151.61 460.17,158.19 445.38,125.31" fill="#c70000"/>
<polygon points="445.38,122.81 460.17,155.69 460.17,160.87 445.38,127.35" fill="#c70000"/>
<polygon points="445.38,124.85 460.17,158.37 460.17,162.18 445.38,127.76" fill="#b70000"/>
<polygon points="445.38,126.39 460.17,160.38 460.17,162.18 445.38,127.76" fill="#b70000"/>
<polygon points="459.17,30.85 473.97,33.88 473.97,67.31 459.17,58.87" fill="#87ff78"/>
<polygon points="459.17,56.37 473.97,64.81 473.97,98.59 459.17,84.67" fill="#d7ff28"/>
<polygon points="459.17,82.17 473.97,96.09 473.97,121.09 459.17,103.23" fill="#ffc700"/>
<polygon points="459.17,100.73 473.97,118.59 473.97,138.25 459.17,117.39" fill="#ff8700"/>
<polygon points="459.17,114.89 473.97,135.75 473.97,155.09 459.17,131.28" fill="#ff5800"/>
<polygon points="459.17,128.78 473.97,152.59 473.97,164.84 459.17,139.32" fill="#ff2800"/>
<polygon points="459.17,136.82 473.97,162.34 473.97,173.69 459.17,146.63" fill="#ff1800"/>
<polygon points="459.17,144.13 473.97,171.19 473.97,180.15 459.17,151.96" fill="#f70000"/>
<polygon points="459.17,149.46 473.97,177.65 473.97,185.02 459.17,155.97" fill="#e70000"/>
<polygon points="459.17,153.47 473.97,182.52 473.97,188.21 459.17,158.60" fill="#d70000"/>
<polygon points="459.17,156.10 473.97,185.71 473.97,190.26 459.17,159.86" fill="#c70000"/>
<polygon points="459.17,158.08 473.97,188.11 473.97,190.26 459.17,159.86" fill="#c70000"/>
<polygon points="472.97,33.67 487.76,36.10 487.76,73.51 472.97,66.74" fill="#18ffe7"/>
<polygon points="472.97,64.24 487.76,71.01 487.76,108.81 472.97,97.64" fill="#78ff87"/>
<polygon points="472.97,95.14 487.76,106.31 487.76,134.21 472.97,119.88" fill="#e7ff18"/>
<polygon points="472.97,117.38 487.76,131.71 487.76,153.57 472.97,136.84" fill="#ffd700"/>
<polygon points="472.97,134.34 487.76,151.07 487.76,172.58 472.97,153.49" fill="#ff9700"/>
<polygon points="472.97,150.99 487.76,170.08 487.76,183.58 472.97,163.11" fill="#ff6800"/>
<polygon points="472.97,160.61 487.76,181.08 487.76,193.57 472.97,171.86" fill="#ff4800"/>
<polygon points="472.97,169.36 487.76,191.07 487.76,200.87 472.97,178.25" fill="#ff2800"/>
<polygon points="472.97,175.75 487.76,198.37 487.76,206.35 472.97,183.05" fill="#ff1800"/>
<polygon points="472.97,180.55 487.76,203.85 487.76,209.96 472.97,186.21" fill="#ff0800"/>
<polygon points="472.97,183.71 487.76,207.46 487.76,212.59 472.97,188.21" fill="#f70000"/>
<polygon points="472.97,186.08 487.76,210.16 487.76,212.59 472.97,188.21" fill="#f70000"/>
<polygon points="486.76,35.94 501.56,37.93 501.56,78.62 486.76,73.05" fill="#0097ff"/>
<polygon points="486.76,70.55 501.56,76.12 501.56,117.23 486.76,108.05" fill="#00f7ff"/>
<polygon points="486.76,105.55 501.56,114.73 501.56,145.02 486.76,133.24" fill="#68ff97"/>
<polygon points="486.76,130.74 501.56,142.52 501.56,166.20 486.76,152.44" fill="#b7ff48"/>
<polygon points="486.76,149.94 501.56,163.70 501.56,187.00 486.76,171.29" fill="#f7ff08"/>
<polygon points="486.76,168.79 501.56,184.50 501.56,199.03 486.76,182.20" fill="#ffc700"/>
<polygon points="486.76,179.70 501.56,196.53 501.56,209.96 486.76,192.11" fill="#ff9700"/>
<polygon points="486.76,189.61 501.56,207.46 501.56,217.94 486.76,199.34" fill="#ff7800"/>
<polygon points="486.76,196.84 501.56,215.44 501.56,223.94 486.76,204.78" fill="#ff6800"/>
<polygon points="486.76,202.28 501.56,221.44 501.56,227.89 486.76,208.35" fill="#ff4800"/>
<polygon points="486.76,205.85 501.56,225.39 501.56,230.85 486.76,210.95" fill="#ff4800"/>
<polygon points="486.76,208.54 501.56,228.35 501.56,231.01 486.76,210.95" fill="#ff3800"/>
<polygon points="500.56,37.80 515.35,38.29 515.35,79.62 500.56,78.24" fill="#0008ff"/>
<polygon points="500.56,75.74 515.35,77.12 515.35,118.88 500.56,116.61" fill="#0068ff"/>
<polygon points="500.56,114.11 515.35,116.38 515.35,147.14 500.56,144.22" fill="#00d7ff"/>
<polygon points="500.56,141.72 515.35,144.64 515.35,168.68 500.56,165.27" fill="#38ffc7"/>
<polygon points="500.56,162.77 515.35,166.18 515.35,189.83 500.56,185.94" fill="#87ff78"/>
<polygon points="500.56,183.44 515.35,187.33 515.35,202.06 500.56,197.89" fill="#d7ff28"/>
<polygon points="500.56,195.39 515.35,199.56 515.35,213.17 500.56,208.76" fill="#f7ff08"/>
<polygon points="500.56,206.26 515.35,210.67 515.35,221.28 500.56,216.68" fill="#ffd700"/>
<polygon points="500.56,214.18 515.35,218.78 515.35,227.39 500.56,222.65" fill="#ffb700"/>
<polygon points="500.56,220.15 515.35,224.89 515.35,231.40 500.56,226.57" fill="#ffa700"/>
<polygon points="500.56,224.07 515.35,228.90 515.35,234.41 500.56,229.51" fill="#ff9700"/>
<polygon points="500.56,227.01 515.35,231.91 515.35,234.61 500.56,229.65" fill="#ff8700"/>
<polygon points="514.35,38.26 529.14,37.77 529.14,78.15 514.35,79.53" fill="#0000d7"/>
<polygon points="514.35,77.03 529.14,75.65 529.14,116.46 514.35,118.73" fill="#0018ff"/>
<polygon points="514.35,116.23 529.14,113.96 529.14,144.03 514.35,146.94" fill="#0078ff"/>
<polygon points="514.35,144.44 529.14,141.53 529.14,165.04 514.35,168.45" fill="#00d7ff"/>
<polygon points="514.35,165.95 529.14,162.54 529.14,185.68 514.35,189.56" fill="#28ffd7"/>
<polygon points="514.35,187.06 529.14,183.18 529.14,197.61 514.35,201.77" fill="#78ff87"/>
<polygon points="514.35,199.27 529.14,195.11 529.14,208.46 514.35,212.88" fill="#a7ff58"/>
<polygon points="514.35,210.38 529.14,205.96 529.14,216.37 514.35,220.97" fill="#d7ff28"/>
<polygon points="514.35,218.47 529.14,213.87 529.14,222.33 514.35,227.07" fill="#f7ff08"/>
<polygon points="514.35,224.57 529.14,219.83 529.14,226.24 514.35,231.07" fill="#ffe700"/>
<polygon points="514.35,228.57 529.14,223.74 529.14,229.18 514.35,234.08" fill="#ffd700"/>
<polygon points="514.35,231.58 529.14,226.68 529.14,229.31 514.35,234.28" fill="#ffc700"/>
<polygon points="528.14,37.80 542.94,35.80 542.94,72.67 528.14,78.24" fill="#0000c7"/>
<polygon points="528.14,75.74 542.94,70.17 542.94,107.43 528.14,116.61" fill="#0000f7"/>
<polygon points="528.14,114.11 542.94,104.93 542.94,132.44 528.14,144.22" fill="#0058ff"/>
<polygon points="528.14,141.72 542.94,129.94 542.94,151.51 528.14,165.27" fill="#00a7ff"/>
<polygon points="528.14,162.77 542.94,149.01 542.94,170.23 528.14,185.94" fill="#00f7ff"/>
<polygon points="528.14,183.44 542.94,167.73 542.94,181.06 528.14,197.89" fill="#48ffb7"/>
<polygon points="528.14,195.39 542.94,178.56 542.94,190.90 528.14,208.76" fill="#78ff87"/>
<polygon points="528.14,206.26 542.94,188.40 542.94,198.08 528.14,216.68" fill="#a7ff58"/>
<polygon points="528.14,214.18 542.94,195.58 542.94,203.48 528.14,222.65" fill="#c7ff38"/>
<polygon points="528.14,220.15 542.94,200.98 542.94,207.03 528.14,226.57" fill="#d7ff28"/>
<polygon points="528.14,224.07 542.94,204.53 542.94,209.59 528.14,229.51" fill="#e7ff18"/>
<polygon points="528.14,227.01 542.94,207.20 542.94,209.59 528.14,229.65" fill="#f7ff08"/>
<polygon points="541.94,35.94 556.73,33.51 556.73,66.28 541.94,73.05" fill="#0000e7"/>
<polygon points="541.94,70.55 556.73,63.78 556.73,96.89 541.94,108.05" fill="#0018ff"/>
<polygon points="541.94,105.55 556.73,94.39 556.73,118.92 541.94,133.24" fill="#0078ff"/>
<polygon points="541.94,130.74 556.73,116.42 556.73,135.71 541.94,152.44" fill="#00b7ff"/>
<polygon points="541.94,149.94 556.73,133.21 556.73,152.19 541.94,171.29" fill="#00f7ff"/>
<polygon points="541.94,168.79 556.73,149.69 556.73,161.73 541.94,182.20" fill="#38ffc7"/>
<polygon points="541.94,179.70 556.73,159.23 556.73,170.40 541.94,192.11" fill="#58ffa7"/>
<polygon points="541.94,189.61 556.73,167.90 556.73,176.72 541.94,199.34" fill="#78ff87"/>
<polygon points="541.94,196.84 556.73,174.22 556.73,181.48 541.94,204.78" fill="#97ff68"/>
<polygon points="541.94,202.28 556.73,178.98 556.73,184.61 541.94,208.35" fill="#a7ff58"/>
<polygon points="541.94,205.85 556.73,182.11 556.73,186.56 541.94,210.95" fill="#b7ff48"/>
<polygon points="541.94,208.54 556.73,184.45 556.73,186.56 541.94,210.95" fill="#b7ff48"/>
<polygon points="555.73,33.67 570.53,30.59 570.53,58.12 555.73,66.74" fill="#0008ff"/>
<polygon points="555.73,64.24 570.53,55.62 570.53,83.44 555.73,97.64" fill="#0038ff"/>
<polygon points="555.73,95.14 570.53,80.94 570.53,101.66 555.73,119.88" fill="#0078ff"/>
<polygon points="555.73,117.38 570.53,99.16 570.53,115.54 555.73,136.84" fill="#00b7ff"/>
<polygon points="555.73,134.34 570.53,113.04 570.53,129.18 555.73,153.49" fill="#00e7ff"/>
<polygon points="555.73,150.99 570.53,126.68 570.53,137.06 555.73,163.11" fill="#18ffe7"/>
<polygon points="555.73,160.61 570.53,134.56 570.53,144.23 555.73,171.86" fill="#38ffc7"/>
<polygon points="555.73,169.36 570.53,141.73 570.53,149.46 555.73,178.25" fill="#58ffa7"/>
<polygon points="555.73,175.75 570.53,146.96 570.53,153.40 555.73,183.05" fill="#78ff87"/>
<polygon points="555.73,180.55 570.53,150.90 570.53,155.98 555.73,186.21" fill="#87ff78"/>
<polygon points="555.73,183.71 570.53,153.48 570.53,157.17 555.73,188.21" fill="#87ff78"/>
<polygon points="555.73,186.08 570.53,155.42 570.53,157.17 555.73,188.21" fill="#97ff68"/>
<polygon points="569.53,30.80 584.32,27.35 584.32,49.09 569.53,58.70" fill="#0038ff"/>
<polygon points="569.53,56.20 584.32,46.59 584.32,68.55 569.53,84.40" fill="#0058ff"/>
<polygon points="569.53,81.90 584.32,66.05 584.32,82.55 569.53,102.89" fill="#0097ff"/>
<polygon points="569.53,100.39 584.32,80.05 584.32,93.22 569.53,116.98" fill="#00c7ff"/>
<polygon points="569.53,114.48 584.32,90.72 584.32,103.70 569.53,130.82" fill="#00e7ff"/>
<polygon points="569.53,128.32 584.32,101.20 584.32,109.76 569.53,138.82" fill="#18ffe7"/>
<polygon points="569.53,136.32 584.32,107.26 584.32,115.27 569.53,146.10" fill="#28ffd7"/>
<polygon points="569.53,143.60 584.32,112.77 584.32,119.29 569.53,151.41" fill="#38ffc7"/>
<polygon points="569.53,148.91 584.32,116.79 584.32,122.32 569.53,155.40" fill="#58ffa7"/>
<polygon points="569.53,152.90 584.32,119.82 584.32,124.31 569.53,158.03" fill="#58ffa7"/>
<polygon points="569.53,155.53 584.32,121.81 584.32,124.64 569.53,159.27" fill="#68ff97"/>
<polygon points="569.53,157.50 584.32,123.30 584.32,124.64 569.53,159.27" fill="#68ff97"/>
<polygon points="583.32,27.58 598.12,24.36 598.12,40.74 583.32,49.74" fill="#0058ff"/>
<polygon points="583.32,47.24 598.12,38.24 598.12,54.78 583.32,69.62" fill="#0068ff"/>
<polygon points="583.32,67.12 598.12,52.28 598.12,64.89 583.32,83.92" fill="#0097ff"/>
<polygon points="583.32,81.42 598.12,62.39 598.12,72.59 583.32,94.83" fill="#00b7ff"/>
<polygon points="583.32,92.33 598.12,70.09 598.12,80.15 583.32,105.54" fill="#00d7ff"/>
<polygon points="583.32,103.04 598.12,77.65 598.12,84.53 583.32,111.73" fill="#00e7ff"/>
<polygon points="583.32,109.23 598.12,82.03 598.12,88.50 583.32,117.36" fill="#00f7ff"/>
<polygon points="583.32,114.86 598.12,86.00 598.12,91.40 583.32,121.46" fill="#08fff7"/>
<polygon points="583.32,118.96 598.12,88.90 598.12,93.59 583.32,124.55" fill="#18ffe7"/>
<polygon points="583.32,122.05 598.12,91.09 598.12,94.56 583.32,126.59" fill="#28ffd7"/>
<polygon points="583.32,124.09 598.12,92.52 598.12,94.56 583.32,126.98" fill="#28ffd7"/>
<polygon points="583.32,125.61 598.12,93.60 598.12,94.56 583.32,126.98" fill="#28ffd7"/>
<polygon points="597.12,24.58 611.91,21.93 611.91,33.97 597.12,41.35" fill="#0058ff"/>
<polygon points="597.12,38.85 611.91,31.47 611.91,43.61 597.12,55.79" fill="#0068ff"/>
<polygon points="597.12,53.29 611.91,41.11 611.91,50.55 597.12,66.18" fill="#0087ff"/>
<polygon points="597.12,63.68 611.91,48.05 611.91,55.84 597.12,74.09" fill="#0097ff"/>
<polygon points="597.12,71.59 611.91,53.34 611.91,61.04 597.12,81.87" fill="#00b7ff"/>
<polygon points="597.12,79.37 611.91,58.54 611.91,64.04 597.12,86.37" fill="#00c7ff"/>
<polygon points="597.12,83.87 611.91,61.54 611.91,66.77 597.12,90.45" fill="#00d7ff"/>
<polygon points="597.12,87.95 611.91,64.27 611.91,68.76 597.12,93.44" fill="#00d7ff"/>
<polygon points="597.12,90.94 611.91,66.26 611.91,70.15 597.12,95.68" fill="#00e7ff"/>
<polygon points="597.12,93.18 611.91,67.76 611.91,70.15 597.12,96.76" fill="#00e7ff"/>
<polygon points="597.12,94.66 611.91,68.75 611.91,70.15 597.12,96.76" fill="#00e7ff"/>
<polygon points="597.12,95.76 611.91,69.49 611.91,70.15 597.12,96.76" fill="#00f7ff"/>
<polygon points="610.91,22.11 625.71,19.90 625.71,28.32 610.91,34.46" fill="#0048ff"/>
<polygon points="610.91,31.96 625.71,25.82 625.71,34.30 610.91,44.43" fill="#0058ff"/>
<polygon points="610.91,41.93 625.71,31.80 625.71,38.60 610.91,51.61" fill="#0068ff"/>
<polygon points="610.91,49.11 625.71,36.10 625.71,41.88 610.91,57.07" fill="#0068ff"/>
<polygon points="610.91,54.57 625.71,39.38 625.71,45.10 610.91,62.44" fill="#0078ff"/>
<polygon points="610.91,59.94 625.71,42.60 625.71,46.96 610.91,65.55" fill="#0087ff"/>
<polygon points="610.91,63.05 625.71,44.46 625.71,48.66 610.91,68.37" fill="#0087ff"/>
<polygon points="610.91,65.87 625.71,46.16 625.71,49.80 610.91,70.43" fill="#0097ff"/>
<polygon points="610.91,67.93 625.71,47.39 625.71,49.80 610.91,71.95" fill="#0097ff"/>
<polygon points="610.91,69.48 625.71,48.32 625.71,49.80 610.91,71.95" fill="#0097ff"/>
<polygon points="610.91,70.50 625.71,48.93 625.71,49.80 610.91,71.95" fill="#0097ff"/>
<polygon points="610.91,71.26 625.71,49.39 625.71,49.80 610.91,71.95" fill="#0097ff"/>
<polygon points="624.71,20.05 638.50,18.69 638.50,24.93 624.71,28.73" fill="#0028ff"/>
<polygon points="624.71,26.23 638.50,22.43 638.50,28.71 624.71,34.98" fill="#0028ff"/>
<polygon points="624.71,32.48 638.50,26.21 638.50,31.43 624.71,39.48" fill="#0038ff"/>
<polygon points="624.71,36.98 638.50,28.93 638.50,33.51 624.71,42.91" fill="#0038ff"/>
<polygon points="624.71,40.41 638.50,31.01 638.50,35.55 624.71,46.27" fill="#0038ff"/>
<polygon points="624.71,43.77 638.50,33.05 638.50,36.72 624.71,48.22" fill="#0048ff"/>
<polygon points="624.71,45.72 638.50,34.22 638.50,37.60 624.71,49.99" fill="#0048ff"/>
<polygon points="624.71,47.49 638.50,35.29 638.50,37.60 624.71,51.28" fill="#0048ff"/>
<polygon points="624.71,48.78 638.50,36.08 638.50,37.60 624.71,51.30" fill="#0048ff"/>
<polygon points="624.71,49.75 638.50,36.66 638.50,37.60 624.71,51.30" fill="#0048ff"/>
<polygon points="624.71,50.39 638.50,37.05 638.50,37.60 624.71,51.30" fill="#0048ff"/>
<polygon points="624.71,50.87 638.50,37.34 638.50,37.60 624.71,51.30" fill="#0048ff"/>
<text x="418.29" y="248.7" class="s" text-anchor="middle">1000</text>
<text x="473.47" y="248.7" class="s" text-anchor="middle">2000</text>
<text x="528.64" y="248.7" class="s" text-anchor="middle">3000</text>
<text x="583.82" y="248.7" class="s" text-anchor="middle">4000</text>
<text x="639.00" y="248.7" class="s" text-anchor="middle">5000</text>
<text x="387.00" y="53.10" class="s" text-anchor="end">−5</text>
<text x="387.00" y="90.70" class="s" text-anchor="end">−10</text>
<text x="387.00" y="128.30" class="s" text-anchor="end">−15</text>
<text x="387.00" y="165.80" class="s" text-anchor="end">−20</text>
<text x="387.00" y="203.40" class="s" text-anchor="end">−25</text>
<text x="514.05" y="259" class="s" text-anchor="middle"><tspan font-weight="bold">y</tspan> (m)</text>
<text transform="translate(362.60,127.55) rotate(-90)" class="s" text-anchor="middle"><tspan font-weight="bold">z</tspan> (m)</text>
<text x="514.46" y="9.8" class="ti" style="letter-spacing:0.22px" text-anchor="middle">Residual sediment concentration</text>
<text x="357.30" y="11.9" class="lab">b</text>
<rect x="649.50" y="18.40" width="12.40" height="216.30" fill="#870000"/>
<rect x="649.50" y="21.78" width="12.40" height="212.92" fill="#970000"/>
<rect x="649.50" y="25.16" width="12.40" height="209.54" fill="#a70000"/>
<rect x="649.50" y="28.54" width="12.40" height="206.16" fill="#b70000"/>
<rect x="649.50" y="31.92" width="12.40" height="202.78" fill="#c70000"/>
<rect x="649.50" y="35.30" width="12.40" height="199.40" fill="#d70000"/>
<rect x="649.50" y="38.68" width="12.40" height="196.02" fill="#e70000"/>
<rect x="649.50" y="42.06" width="12.40" height="192.64" fill="#f70000"/>
<rect x="649.50" y="45.44" width="12.40" height="189.26" fill="#ff0800"/>
<rect x="649.50" y="48.82" width="12.40" height="185.88" fill="#ff1800"/>
<rect x="649.50" y="52.20" width="12.40" height="182.50" fill="#ff2800"/>
<rect x="649.50" y="55.58" width="12.40" height="179.12" fill="#ff3800"/>
<rect x="649.50" y="58.96" width="12.40" height="175.74" fill="#ff4800"/>
<rect x="649.50" y="62.34" width="12.40" height="172.36" fill="#ff5800"/>
<rect x="649.50" y="65.72" width="12.40" height="168.98" fill="#ff6800"/>
<rect x="649.50" y="69.10" width="12.40" height="165.60" fill="#ff7800"/>
<rect x="649.50" y="72.47" width="12.40" height="162.22" fill="#ff8700"/>
<rect x="649.50" y="75.85" width="12.40" height="158.85" fill="#ff9700"/>
<rect x="649.50" y="79.23" width="12.40" height="155.47" fill="#ffa700"/>
<rect x="649.50" y="82.61" width="12.40" height="152.09" fill="#ffb700"/>
<rect x="649.50" y="85.99" width="12.40" height="148.71" fill="#ffc700"/>
<rect x="649.50" y="89.37" width="12.40" height="145.33" fill="#ffd700"/>
<rect x="649.50" y="92.75" width="12.40" height="141.95" fill="#ffe700"/>
<rect x="649.50" y="96.13" width="12.40" height="138.57" fill="#fff700"/>
<rect x="649.50" y="99.51" width="12.40" height="135.19" fill="#f7ff08"/>
<rect x="649.50" y="102.89" width="12.40" height="131.81" fill="#e7ff18"/>
<rect x="649.50" y="106.27" width="12.40" height="128.43" fill="#d7ff28"/>
<rect x="649.50" y="109.65" width="12.40" height="125.05" fill="#c7ff38"/>
<rect x="649.50" y="113.03" width="12.40" height="121.67" fill="#b7ff48"/>
<rect x="649.50" y="116.41" width="12.40" height="118.29" fill="#a7ff58"/>
<rect x="649.50" y="119.79" width="12.40" height="114.91" fill="#97ff68"/>
<rect x="649.50" y="123.17" width="12.40" height="111.53" fill="#87ff78"/>
<rect x="649.50" y="126.55" width="12.40" height="108.15" fill="#78ff87"/>
<rect x="649.50" y="129.93" width="12.40" height="104.77" fill="#68ff97"/>
<rect x="649.50" y="133.31" width="12.40" height="101.39" fill="#58ffa7"/>
<rect x="649.50" y="136.69" width="12.40" height="98.01" fill="#48ffb7"/>
<rect x="649.50" y="140.07" width="12.40" height="94.63" fill="#38ffc7"/>
<rect x="649.50" y="143.45" width="12.40" height="91.25" fill="#28ffd7"/>
<rect x="649.50" y="146.83" width="12.40" height="87.87" fill="#18ffe7"/>
<rect x="649.50" y="150.21" width="12.40" height="84.49" fill="#08fff7"/>
<rect x="649.50" y="153.59" width="12.40" height="81.11" fill="#00f7ff"/>
<rect x="649.50" y="156.97" width="12.40" height="77.73" fill="#00e7ff"/>
<rect x="649.50" y="160.35" width="12.40" height="74.35" fill="#00d7ff"/>
<rect x="649.50" y="163.73" width="12.40" height="70.97" fill="#00c7ff"/>
<rect x="649.50" y="167.11" width="12.40" height="67.59" fill="#00b7ff"/>
<rect x="649.50" y="170.49" width="12.40" height="64.21" fill="#00a7ff"/>
<rect x="649.50" y="173.87" width="12.40" height="60.83" fill="#0097ff"/>
<rect x="649.50" y="177.25" width="12.40" height="57.45" fill="#0087ff"/>
<rect x="649.50" y="180.62" width="12.40" height="54.07" fill="#0078ff"/>
<rect x="649.50" y="184.00" width="12.40" height="50.70" fill="#0068ff"/>
<rect x="649.50" y="187.38" width="12.40" height="47.32" fill="#0058ff"/>
<rect x="649.50" y="190.76" width="12.40" height="43.94" fill="#0048ff"/>
<rect x="649.50" y="194.14" width="12.40" height="40.56" fill="#0038ff"/>
<rect x="649.50" y="197.52" width="12.40" height="37.18" fill="#0028ff"/>
<rect x="649.50" y="200.90" width="12.40" height="33.80" fill="#0018ff"/>
<rect x="649.50" y="204.28" width="12.40" height="30.42" fill="#0008ff"/>
<rect x="649.50" y="207.66" width="12.40" height="27.04" fill="#0000f7"/>
<rect x="649.50" y="211.04" width="12.40" height="23.66" fill="#0000e7"/>
<rect x="649.50" y="214.42" width="12.40" height="20.28" fill="#0000d7"/>
<rect x="649.50" y="217.80" width="12.40" height="16.90" fill="#0000c7"/>
<rect x="649.50" y="221.18" width="12.40" height="13.52" fill="#0000b7"/>
<rect x="649.50" y="224.56" width="12.40" height="10.14" fill="#0000a7"/>
<rect x="649.50" y="227.94" width="12.40" height="6.76" fill="#000097"/>
<rect x="649.50" y="231.32" width="12.40" height="3.38" fill="#000087"/>
<rect x="649.50" y="18.40" width="12.40" height="216.30" fill="none" stroke="#000" stroke-width="1.3"/>
<text x="663.70" y="23.30" class="s">1</text>
<line x1="649.50" y1="43.50" x2="652.00" y2="43.50" class="t"/>
<line x1="661.90" y1="43.50" x2="659.40" y2="43.50" class="t"/>
<text x="663.70" y="47.60" class="s">0.95</text>
<line x1="649.50" y1="68.30" x2="652.00" y2="68.30" class="t"/>
<line x1="661.90" y1="68.30" x2="659.40" y2="68.30" class="t"/>
<text x="663.70" y="72.40" class="s">0.9</text>
<line x1="649.50" y1="93.10" x2="652.00" y2="93.10" class="t"/>
<line x1="661.90" y1="93.10" x2="659.40" y2="93.10" class="t"/>
<text x="663.70" y="97.20" class="s">0.85</text>
<line x1="649.50" y1="117.90" x2="652.00" y2="117.90" class="t"/>
<line x1="661.90" y1="117.90" x2="659.40" y2="117.90" class="t"/>
<text x="663.70" y="122.00" class="s">0.8</text>
<line x1="649.50" y1="142.70" x2="652.00" y2="142.70" class="t"/>
<line x1="661.90" y1="142.70" x2="659.40" y2="142.70" class="t"/>
<text x="663.70" y="146.80" class="s">0.75</text>
<line x1="649.50" y1="167.50" x2="652.00" y2="167.50" class="t"/>
<line x1="661.90" y1="167.50" x2="659.40" y2="167.50" class="t"/>
<text x="663.70" y="171.60" class="s">0.7</text>
<line x1="649.50" y1="192.30" x2="652.00" y2="192.30" class="t"/>
<line x1="661.90" y1="192.30" x2="659.40" y2="192.30" class="t"/>
<text x="663.70" y="196.40" class="s">0.65</text>
<line x1="649.50" y1="217.10" x2="652.00" y2="217.10" class="t"/>
<line x1="661.90" y1="217.10" x2="659.40" y2="217.10" class="t"/>
<text x="663.70" y="221.20" class="s">0.6</text>
</svg>
</body></html>
